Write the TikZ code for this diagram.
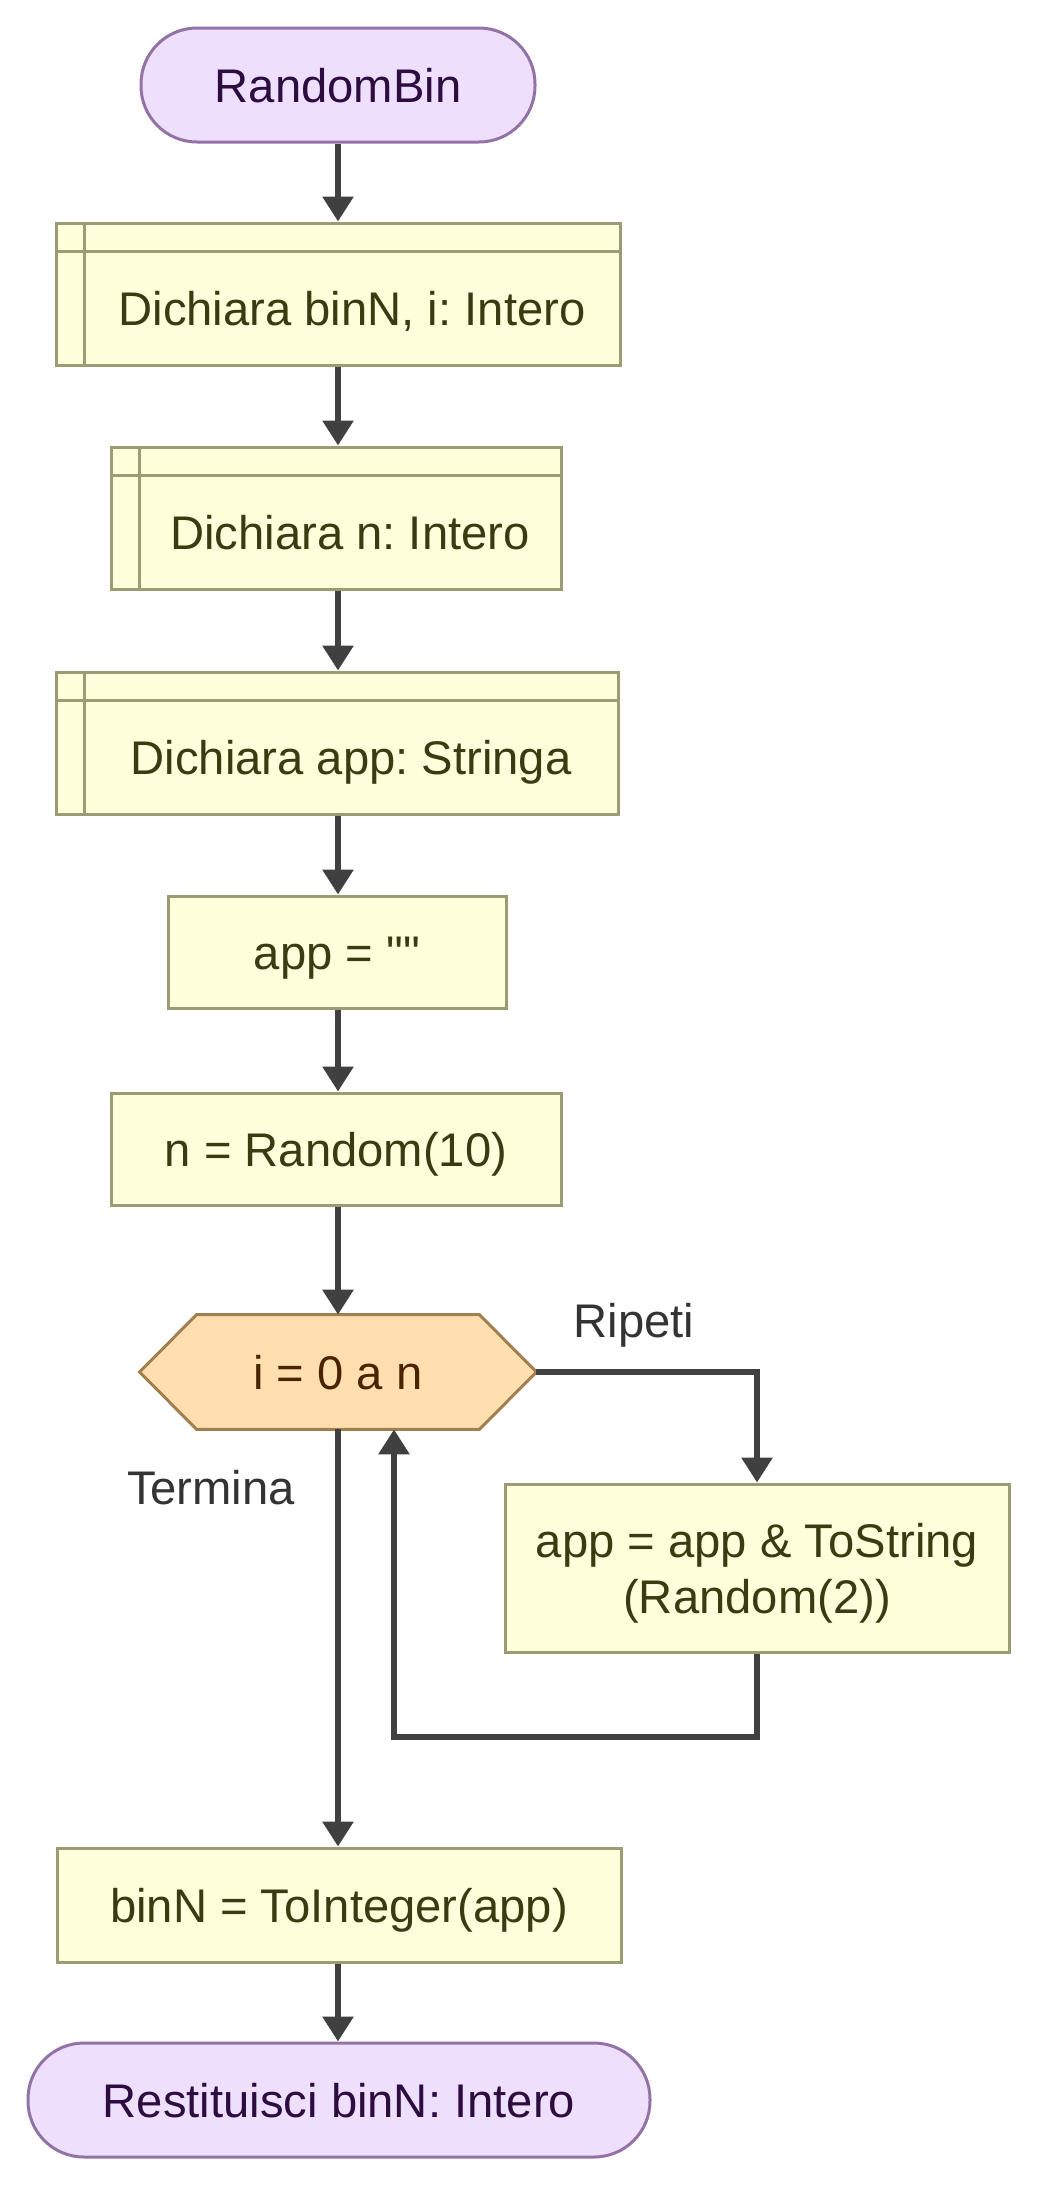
\documentclass[tikz,border=0pt]{standalone}
\usepackage{fontspec}
\setmainfont{Liberation Sans}[Ligatures=TeXOff]
\usetikzlibrary{arrows.meta,backgrounds,calc}
\definecolor{termfill}{HTML}{EEE0FD}
\definecolor{termdraw}{HTML}{9372A6}
\definecolor{termtext}{HTML}{2D0C40}
\definecolor{boxfill}{HTML}{FFFFDC}
\definecolor{boxdraw}{HTML}{9C9C74}
\definecolor{boxtext}{HTML}{3B3B12}
\definecolor{hexfill}{HTML}{FFDFB0}
\definecolor{hexdraw}{HTML}{A27F4E}
\definecolor{hextext}{HTML}{4A2400}
\definecolor{arrcol}{HTML}{404040}
\definecolor{labcol}{HTML}{333333}
\frenchspacing
\begin{document}
\begin{tikzpicture}[x=0.5pt,y=-0.5pt,
  every node/.style={font=\fontsize{23.6}{28}\selectfont\frenchspacing, inner sep=0pt, align=center, text height=18pt, text depth=1pt},
  term/.style={draw=termdraw, fill=termfill, text=termtext, line width=1.5pt, rounded corners=28pt, minimum height=57pt},
  procbox/.style={draw=boxdraw, fill=boxfill, text=boxtext, line width=1.5pt, minimum height=#1},
  procbox/.default=56pt,
  subbox/.style={procbox=71pt, text height=32pt, path picture={
      \draw[boxdraw, line width=1.5pt] ([xshift=14pt]path picture bounding box.north west) -- ([xshift=14pt]path picture bounding box.south west);
      \draw[boxdraw, line width=1.5pt] ([yshift=-14pt]path picture bounding box.north west) -- ([yshift=-14pt]path picture bounding box.north east);}},
  hexnode/.style={text=hextext, minimum height=57pt, minimum width=198pt},
  arr/.style={draw=arrcol, line width=3pt, -{Triangle[length=12.5pt,width=15pt]}},
  lbl/.style={text=labcol}
]
\useasboundingbox (0,0) rectangle (1037,2185);

\node[term, minimum width=197pt] (start) at (338,85) {RandomBin};
\node[subbox, minimum width=282pt] (d1) at (338,294) {\hspace*{14pt}Dichiara binN, i: Intero};
\node[subbox, minimum width=225pt] (d2) at (336,518) {\hspace*{14pt}Dichiara n: Intero};
\node[subbox, minimum width=281pt] (d3) at (337,743) {\hspace*{14pt}Dichiara app: Stringa};
\node[procbox, minimum width=169pt] (a1) at (337,952) {app = ""};
\node[procbox, minimum width=225pt] (a2) at (336,1149) {n = Random(10)};
\node[hexnode] (hex) at (338,1372) {i = 0 a n};
\begin{scope}[on background layer]
  \draw[draw=hexdraw, fill=hexfill, line width=1.5pt]
    (hex.west) -- ($(hex.north west)+(28.5pt,0)$) -- ($(hex.north east)+(-28.5pt,0)$) -- (hex.east)
    -- ($(hex.south east)+(-28.5pt,0)$) -- ($(hex.south west)+(28.5pt,0)$) -- cycle;
\end{scope}
\node[procbox=84pt, minimum width=252pt, text height=46pt] (loop) at (757,1568) {app = app \& ToString\\(Random(2))};
\node[procbox=57pt, minimum width=282pt] (b1) at (339,1905) {binN = ToInteger(app)};
\node[term, minimum width=311pt] (stop) at (339,2100) {Restituisci binN: Intero};

\node[lbl] (ripeti) at (634,1320) {Ripeti};
\node[lbl] (termina) at (211,1487) {Termina};

\draw[arr] (start.south) -- (start.south |- d1.north);
\draw[arr] (start.south |- d1.south) -- (start.south |- d2.north);
\draw[arr] (start.south |- d2.south) -- (start.south |- d3.north);
\draw[arr] (start.south |- d3.south) -- (start.south |- a1.north);
\draw[arr] (start.south |- a1.south) -- (start.south |- a2.north);
\draw[arr] (start.south |- a2.south) -- (start.south |- hex.north);
\draw[arr] (hex.east) -| (loop.north);
\coordinate (bk) at (394,1737);
\draw[arr] (loop.south) |- (bk) -- (bk |- hex.south);
\draw[arr] (start.south |- hex.south) -- (start.south |- b1.north);
\draw[arr] (start.south |- b1.south) -- (start.south |- stop.north);
\end{tikzpicture}
\end{document}
